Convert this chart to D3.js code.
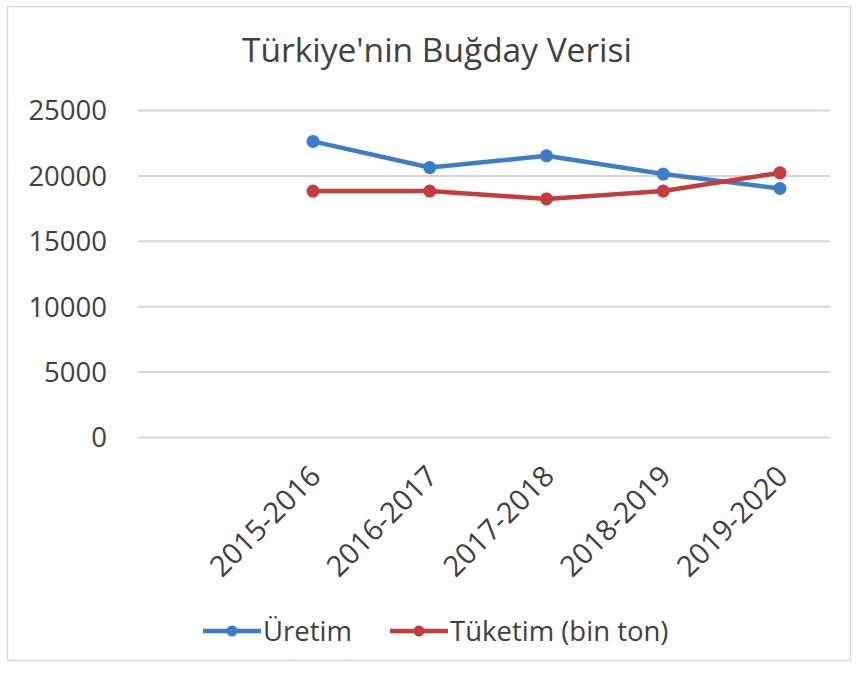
<!DOCTYPE html>
<html>
<head>
<meta charset="utf-8">
<script src="https://cdn.jsdelivr.net/npm/d3@7"></script>
<style>
  html, body { margin: 0; padding: 0; background: #ffffff; }
  svg { display: block; }
  text { font-family: "Open Sans", "Noto Sans", sans-serif; fill: #404040; }
</style>
</head>
<body>
<svg id="chart" width="858" height="675"></svg>
<script>
// Wheat supply for Turkey, thousand tonnes per marketing year
const seasons = ["2015-2016", "2016-2017", "2017-2018", "2018-2019", "2019-2020"];
const production = [22600, 20600, 21500, 20100, 19000];   // Üretim
const consumption = [18800, 18800, 18200, 18800, 20200];  // Tüketim (bin ton)
const yTicks = [0, 5000, 10000, 15000, 20000, 25000];
const seriesNames = ["Üretim", "Tüketim (bin ton)"];
const seriesColors = ["#3d7cc9", "#c43c3c"];
const chartTitle = "Türkiye'nin Buğday Verisi";

const svg = d3.select("#chart");

// outer chart frame
svg.append("rect")
  .attr("x", 7.5).attr("y", 6.5)
  .attr("width", 843).attr("height", 654)
  .attr("fill", "#ffffff")
  .attr("stroke", "#d9d9d9")
  .attr("stroke-width", 1.5);

const x = d3.scalePoint().domain(seasons).range([313, 780]);
const y = d3.scaleLinear().domain([0, 25000]).range([437, 110]);

// horizontal gridlines
const gridG = svg.append("g")
  .attr("transform", "translate(138,0)")
  .call(d3.axisLeft(y).tickValues(yTicks).tickSize(-692).tickFormat(""));
gridG.select(".domain").remove();
gridG.selectAll(".tick line").attr("stroke", "#dbd3cf").attr("stroke-width", 2);

// y-axis labels
const yAxisG = svg.append("g")
  .attr("transform", "translate(107,0)")
  .call(d3.axisLeft(y).tickValues(yTicks).tickSize(0).tickPadding(0).tickFormat(d3.format("d")));
yAxisG.select(".domain").remove();
yAxisG.selectAll(".tick text")
  .attr("font-size", 27.5)
  .attr("fill", "#404040")
  .attr("dy", "0.36em")
  .style("font-family", "\"Open Sans\", sans-serif");

// x-axis labels, rotated
const xAxisG = svg.append("g")
  .attr("transform", "translate(0,437)")
  .call(d3.axisBottom(x).tickSize(0).tickPadding(0));
xAxisG.select(".domain").remove();
xAxisG.selectAll(".tick text")
  .attr("font-size", 29)
  .attr("fill", "#404040")
  .attr("text-anchor", "end")
  .attr("dy", 0)
  .attr("transform", "translate(9,41) rotate(-45)")
  .style("font-family", "\"Open Sans\", sans-serif");

// series lines and markers
const series = [production, consumption];
const line = d3.line().x((d, i) => x(seasons[i])).y(d => y(d));

series.forEach((vals, s) => {
  svg.append("path")
    .datum(vals)
    .attr("fill", "none")
    .attr("stroke", seriesColors[s])
    .attr("stroke-width", 4.5)
    .attr("stroke-linejoin", "round")
    .attr("stroke-linecap", "round")
    .attr("d", line);
  svg.append("g").selectAll("circle")
    .data(vals)
    .join("circle")
    .attr("cx", (d, i) => x(seasons[i]))
    .attr("cy", d => y(d))
    .attr("r", 6.5)
    .attr("fill", seriesColors[s]);
});

// title
const title = svg.append("text")
  .attr("x", 437).attr("y", 62)
  .attr("text-anchor", "middle")
  .attr("font-size", 30)
  .text(chartTitle);
const tw = title.node().getComputedTextLength();
title.attr("font-size", 30 * 390 / tw);

// legend
const legendItems = [
  { name: seriesNames[0], color: seriesColors[0], x0: 203 },
  { name: seriesNames[1], color: seriesColors[1], x0: 390 }
];
legendItems.forEach(it => {
  const g = svg.append("g").attr("transform", `translate(${it.x0},631)`);
  g.append("line").attr("x1", 0).attr("x2", 58).attr("y1", 0).attr("y2", 0)
    .attr("stroke", it.color).attr("stroke-width", 4.5);
  g.append("circle").attr("cx", 29).attr("cy", 0).attr("r", 5.5).attr("fill", it.color);
  g.append("text").attr("x", 60).attr("y", 0).attr("dy", "0.36em")
    .attr("font-size", 27.5).text(it.name);
});
</script>
</body>
</html>
